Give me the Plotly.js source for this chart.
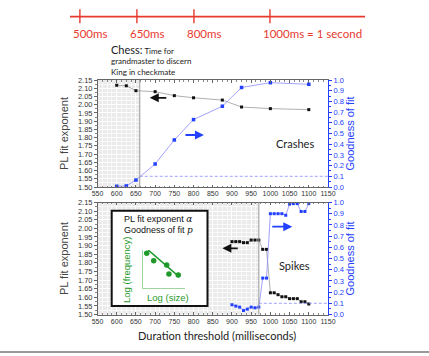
<!DOCTYPE html>
<html><head><meta charset="utf-8">
<script src="https://cdn.plot.ly/plotly-3.0.1.min.js"></script>
<style>html,body{margin:0;padding:0;background:#fff}#chart{width:429px;height:356px}</style>
</head><body><div id="chart"></div>
<script>
// ---- timeline ----
const timelineTicks = [500, 650, 800, 1000];
const timelineLabels = ['500ms', '650ms', '800ms', '1000ms = 1 second'];
const timelineExtent = [474, 1250];

// ---- crashes (top panel) ----
const crashThreshold = [600, 625, 650, 700, 750, 800, 875, 925, 1000, 1100];
const crashExponent = [2.118, 2.115, 2.085, 2.079, 2.055, 2.042, 2.028, 1.986, 1.976, 1.970];
const crashFit = [0.007, 0.01, 0.065, 0.215, 0.44, 0.63, 0.755, 0.93, 0.975, 0.96];
const crashCutoff = 660;

// ---- spikes (bottom panel) ----
const spikeThreshold = [900, 910, 920, 930, 940, 950, 960, 970, 980, 990, 1000, 1010, 1020, 1030, 1040, 1050, 1060, 1070, 1080, 1090, 1100];
const spikeExponent = [1.923, 1.923, 1.923, 1.917, 1.917, 1.932, 1.932, 1.932, 1.878, 1.878, 1.626, 1.626, 1.615, 1.603, 1.603, 1.592, 1.592, 1.592, 1.574, 1.574, 1.561];
const spikeFit = [0.087, 0.075, 0.066, 0.036, 0.048, 0.066, 0.06, 0.066, 0.325, 0.325, 0.90, 0.90, 0.90, 0.90, 0.886, 0.985, 0.99, 0.99, 0.92, 0.92, 0.99];
const spikeCutoff = 970;
const fitLimit = 0.1;
const axisEnd = 1150;

// ---- inset sketch ----
const insetLogSize = [0.95, 2.6, 5.67, 6.2, 8.4];
const insetLogFreq = [9.12, 7.16, 6.02, 3.63, 3.37];
const insetFitX = [1.3, 8.7];
const insetFitY = [10, 2.8];

const W = 429, H = 356;
const px = v => v / W, py = v => 1 - v / H;
const xDom = [px(97.5), px(328)];
const topDom = [py(187), py(80)];
const botDom = [py(314.5), py(202.5)];

const BLUE = '#2340ff', BLUEL = '#8a8aff', BLK = '#111', GREEN = '#1f9a2a', RED = '#e8392f';
const ARIAL = 'Arial, Liberation Sans, sans-serif';
const CAL = 'Lato, Carlito, sans-serif';

const traces = [
  {x: crashThreshold, y: crashExponent, xaxis: 'x', yaxis: 'y', mode: 'lines+markers',
   line: {color: '#9a9a9a', width: 0.8}, marker: {symbol: 'square', size: 3, color: BLK}},
  {x: crashThreshold, y: crashFit, xaxis: 'x', yaxis: 'y2', mode: 'lines+markers',
   line: {color: BLUEL, width: 0.8}, marker: {symbol: 'square', size: 3.5, color: BLUE}},
  {x: [crashCutoff, axisEnd], y: [fitLimit, fitLimit], xaxis: 'x', yaxis: 'y2', mode: 'lines',
   line: {color: BLUEL, width: 0.8, dash: '3px,2px'}},
  {x: spikeThreshold, y: spikeExponent, xaxis: 'x2', yaxis: 'y3', mode: 'lines+markers',
   line: {color: '#9a9a9a', width: 0.8}, marker: {symbol: 'square', size: 3, color: BLK}},
  {x: spikeThreshold, y: spikeFit, xaxis: 'x2', yaxis: 'y4', mode: 'lines+markers',
   line: {color: BLUEL, width: 0.8}, marker: {symbol: 'square', size: 3, color: BLUE}},
  {x: [spikeCutoff, axisEnd], y: [fitLimit, fitLimit], xaxis: 'x2', yaxis: 'y4', mode: 'lines',
   line: {color: BLUEL, width: 0.8, dash: '3px,2px'}},
  {x: insetFitX, y: insetFitY, xaxis: 'x3', yaxis: 'y5', mode: 'lines',
   line: {color: GREEN, width: 1.5}},
  {x: insetLogSize, y: insetLogFreq, xaxis: 'x3', yaxis: 'y5', mode: 'markers',
   marker: {size: 5.5, color: GREEN}},
  {x: timelineExtent, y: [0, 0], xaxis: 'x4', yaxis: 'y6', mode: 'lines',
   line: {color: RED, width: 1.6}},
  {x: timelineTicks.flatMap(t => [t, t, null]), y: timelineTicks.flatMap(() => [0.45, -0.4, null]),
   xaxis: 'x4', yaxis: 'y6', mode: 'lines', line: {color: RED, width: 1.4}}
];
traces.forEach(t => { t.showlegend = false; t.hoverinfo = 'skip'; t.cliponaxis = false; });

function xAx(anchor) {
  return {domain: xDom, anchor: anchor, range: [550, 1150], tick0: 550, dtick: 50,
    showline: true, linecolor: '#666', linewidth: 1, mirror: 'ticks',
    ticks: 'inside', ticklen: 2.5, tickcolor: '#666', tickangle: 0,
    tickfont: {family: ARIAL, size: 7, color: '#333'},
    showgrid: true, gridcolor: '#ffffff', gridwidth: 1, zeroline: false,
    minor: {dtick: 12.5, showgrid: true, gridcolor: '#ffffff', gridwidth: 0.7, ticks: 'inside', ticklen: 1.5, tickcolor: '#888'}};
}
function yAx(dom, anchor) {
  return {domain: dom, anchor: anchor, range: [1.5, 2.15], tick0: 1.5, dtick: 0.05, tickformat: '.2f',
    showline: true, linecolor: '#666', linewidth: 1,
    ticks: 'outside', ticklen: 2.5, tickcolor: '#666',
    tickfont: {family: ARIAL, size: 7.5, color: '#333'},
    showgrid: true, gridcolor: '#ffffff', gridwidth: 1, zeroline: false,
    minor: {dtick: 0.025, showgrid: true, gridcolor: '#ffffff', gridwidth: 0.7, ticks: 'outside', ticklen: 1.5, tickcolor: '#888'},
    title: {text: 'PL fit exponent', font: {family: ARIAL, size: 11, color: '#444'}, standoff: 7}};
}
function y2Ax(over, anchor) {
  return {overlaying: over, anchor: anchor, side: 'right', range: [0, 1], tick0: 0, dtick: 0.1, tickformat: '.1f',
    showline: true, linecolor: BLUE, linewidth: 1,
    ticks: 'outside', ticklen: 3, tickcolor: BLUE,
    tickfont: {family: ARIAL, size: 7.5, color: BLUE},
    showgrid: false, zeroline: false,
    minor: {dtick: 0.05, ticks: 'outside', ticklen: 2, tickcolor: BLUE},
    title: {text: 'Goodness of fit', font: {family: ARIAL, size: 11, color: BLUE}, standoff: 1}};
}

const layout = {
  width: W, height: H, margin: {l: 0, r: 0, t: 0, b: 0},
  paper_bgcolor: '#fff', plot_bgcolor: '#fff', showlegend: false,
  xaxis: xAx('y'), yaxis: yAx(topDom, 'x'), yaxis2: y2Ax('y', 'x'),
  xaxis2: xAx('y3'), yaxis3: yAx(botDom, 'x2'), yaxis4: y2Ax('y3', 'x2'),
  xaxis3: {domain: [px(142.7), px(185)], anchor: 'y5', range: [0, 10], showline: true, linecolor: '#9fd69f', linewidth: 1,
           showticklabels: false, ticks: '', showgrid: false, zeroline: false},
  yaxis5: {domain: [py(287.7), py(250)], anchor: 'x3', range: [0, 10], showline: true, linecolor: '#9fd69f', linewidth: 1,
           showticklabels: false, ticks: '', showgrid: false, zeroline: false},
  xaxis4: {domain: [px(70), px(365)], anchor: 'y6', range: timelineExtent, visible: false},
  yaxis6: {domain: [py(50), py(0)], anchor: 'x4', range: [-2, 1], visible: false},
  shapes: [
    {type: 'rect', xref: 'x', yref: 'y domain', x0: 550, x1: crashCutoff, y0: 0, y1: 1, fillcolor: '#ebebeb', line: {width: 0}, layer: 'below'},
    {type: 'rect', xref: 'x2', yref: 'y3 domain', x0: 550, x1: spikeCutoff, y0: 0, y1: 1, fillcolor: '#ebebeb', line: {width: 0}, layer: 'below'},
    {type: 'rect', xref: 'paper', yref: 'paper', x0: px(111.7), x1: px(207.5), y0: py(306), y1: py(210.7), fillcolor: '#fff', line: {width: 0}, layer: 'below'},
    {type: 'line', xref: 'x', yref: 'y domain', x0: crashCutoff, x1: crashCutoff, y0: 0, y1: 1, line: {color: '#999', width: 1}},
    {type: 'line', xref: 'x2', yref: 'y3 domain', x0: spikeCutoff, x1: spikeCutoff, y0: 0, y1: 1, line: {color: '#999', width: 1}},
    {type: 'rect', xref: 'paper', yref: 'paper', x0: px(111.7), x1: px(207.5), y0: py(306), y1: py(210.7), line: {color: '#111', width: 2}, layer: 'above'},
    {type: 'line', xref: 'paper', yref: 'paper', x0: 0, x1: 1, y0: py(352), y1: py(352), line: {color: '#777', width: 1.5}}
  ],
  annotations: [
    ...timelineTicks.map((t, i) => ({xref: 'x4', yref: 'paper', x: t, y: py(33), text: timelineLabels[i],
      showarrow: false, xanchor: 'left', yanchor: 'middle', xshift: -9, font: {family: CAL, size: 11.5, color: RED}})),
    {xref: 'paper', yref: 'paper', x: px(109), y: py(41), xanchor: 'left', yanchor: 'top', align: 'left', showarrow: false,
     text: '<span style="font-size:11px">Chess:</span> Time for<br>grandmaster to discern<br>King in checkmate',
     font: {family: CAL, size: 8, color: '#222'}},
    {xref: 'x', yref: 'y', x: 1065, y: 1.767, text: 'Crashes', showarrow: false, font: {family: CAL, size: 11, color: '#222'}},
    {xref: 'x2', yref: 'y3', x: 1064, y: 1.787, text: 'Spikes', showarrow: false, font: {family: CAL, size: 11, color: '#222'}},
    {xref: 'x', yref: 'y', x: 686, y: 2.042, axref: 'x', ayref: 'y', ax: 733, ay: 2.042, text: '', showarrow: true,
     arrowhead: 2, arrowsize: 1, arrowwidth: 1.8, arrowcolor: BLK},
    {xref: 'x', yref: 'y2', x: 827, y: 0.486, axref: 'x', ayref: 'y2', ax: 775, ay: 0.486, text: '', showarrow: true,
     arrowhead: 2, arrowsize: 1, arrowwidth: 1.8, arrowcolor: BLUE},
    {xref: 'x2', yref: 'y3', x: 875, y: 1.884, axref: 'x2', ayref: 'y3', ax: 919, ay: 1.884, text: '', showarrow: true,
     arrowhead: 2, arrowsize: 1, arrowwidth: 1.8, arrowcolor: BLK},
    {xref: 'x2', yref: 'y4', x: 1057, y: 0.784, axref: 'x2', ayref: 'y4', ax: 1001, ay: 0.784, text: '', showarrow: true,
     arrowhead: 2, arrowsize: 1, arrowwidth: 1.8, arrowcolor: BLUE},
    {xref: 'paper', yref: 'paper', x: px(121.5), y: py(219), xanchor: 'left', yanchor: 'middle', showarrow: false,
     text: 'PL fit exponent <span style="font-family:DejaVu Serif,serif"><i>α</i></span>', font: {family: ARIAL, size: 9, color: '#111'}},
    {xref: 'paper', yref: 'paper', x: px(121.5), y: py(230), xanchor: 'left', yanchor: 'middle', showarrow: false,
     text: 'Goodness of fit <span style="font-family:DejaVu Serif,serif"><i>p</i></span>', font: {family: ARIAL, size: 9, color: '#111'}},
    {xref: 'paper', yref: 'paper', x: px(126), y: py(270), textangle: -90, xanchor: 'center', yanchor: 'middle', showarrow: false,
     text: 'Log (frequency)', font: {family: ARIAL, size: 9.5, color: GREEN}},
    {xref: 'paper', yref: 'paper', x: px(167.7), y: py(297.7), xanchor: 'center', yanchor: 'middle', showarrow: false,
     text: 'Log (size)', font: {family: ARIAL, size: 9.5, color: GREEN}},
    {xref: 'paper', yref: 'paper', x: px(217), y: py(335), xanchor: 'center', yanchor: 'middle', showarrow: false,
     text: 'Duration threshold (milliseconds)', font: {family: CAL, size: 11, color: '#222'}}
  ]
};

Plotly.newPlot('chart', traces, layout, {displayModeBar: false, staticPlot: true});
</script>
</body></html>
